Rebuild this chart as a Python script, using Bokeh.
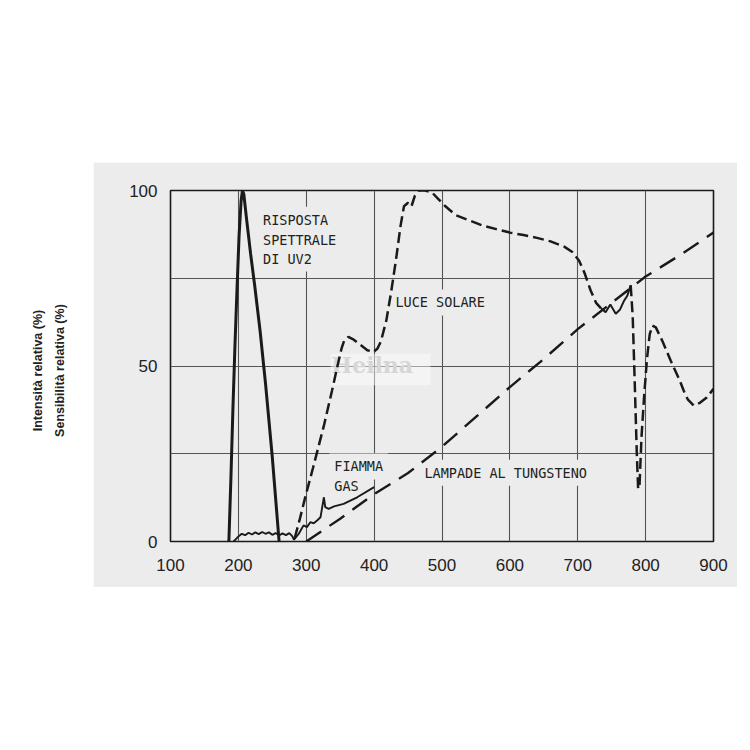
import math
from bokeh.plotting import figure
from bokeh.models import Label, FixedTicker, Spacer, Range1d, BoxAnnotation
from bokeh.layouts import row, column
from bokeh.embed import file_html
from bokeh.resources import INLINE
from bokeh.core.properties import value

# ---------------- data ----------------
x_ticks = [100, 200, 300, 400, 500, 600, 700, 800, 900]
y_ticks = [0, 50, 100]
x_grid = [200, 300, 400, 500, 600, 700, 800]
y_grid = [25, 50, 75]

# spectral response of UV2 (solid, thick)
uv2_wl = [186, 189, 192, 195, 198, 201, 204, 206, 208, 212, 218, 224, 232, 240, 250, 260]
uv2_val = [0, 18, 38, 56, 72, 87, 97, 100, 99, 92, 82, 73, 60, 45, 24, 0]

# gas flame (solid, thin)
flame_wl = [193, 197, 201, 205, 210, 215, 220, 225, 230, 235, 240, 245, 250, 255, 260,
            265, 270, 275, 279, 282, 289, 296, 301, 306, 311, 316, 321, 326, 328, 333,
            341, 355, 375, 400]
flame_val = [0, 0.8, 1.6, 2.2, 1.8, 2.5, 2.0, 2.6, 2.1, 2.7, 2.2, 2.6, 1.9, 2.4, 1.7,
             2.3, 1.8, 2.4, 1.6, 0.5, 2.2, 4.6, 4.1, 5.5, 5.2, 6.0, 6.9, 12.6, 9.8, 9.3,
             10.0, 10.7, 12.6, 15.5]

# sunlight (dashed)
sol_wl = [283, 290, 299, 310, 326, 338, 346, 352, 356, 362, 370, 380, 390, 399, 405,
          410, 418, 425, 432, 439, 444, 450, 455, 460, 466, 475, 485, 495, 505, 520,
          540, 560, 580, 600, 620, 640, 660, 680, 692, 702, 710, 719, 727, 734, 741,
          748, 756, 762, 768, 773, 778, 781, 784, 787, 789, 791, 794, 798, 802, 806,
          810, 815, 825, 837, 850, 856, 862, 871, 880, 890, 900]
sol_val = [1, 6, 13, 21, 33, 43, 50, 55, 57.3, 58.3, 57.5, 56, 54.5, 54, 55,
           57, 63, 71, 80, 90, 95.5, 96.5, 95.5, 98.5, 100, 100, 99.5, 97.5, 95.5, 93,
           91.5, 90, 89, 88, 87.3, 86.5, 85.5, 84, 82.5, 80, 76.5, 71.5, 68, 66.5, 65.3,
           67.5, 64.9, 66, 68.5, 70, 73, 64, 45, 25, 15, 16, 30, 42, 52, 59,
           61.5, 61, 57, 51.5, 46, 43, 40.5, 38.7, 39.5, 41, 43.5]

# tungsten lamps (long dashes)
tung_wl = [300, 350, 400, 450, 500, 550, 600, 650, 700, 750, 800, 850, 900]
tung_val = [0, 6.5, 13.5, 19.5, 27, 35.5, 44, 52, 60.5, 68, 75.5, 81.5, 88]

BG = "#ececec"
INK = "#1a1a1a"
GRID = "#555555"

p = figure(width=644, height=425,
           x_range=Range1d(100, 900), y_range=Range1d(0, 100),
           output_backend="svg", toolbar_location=None,
           min_border_left=77, min_border_right=24,
           min_border_top=28, min_border_bottom=46,
           background_fill_color=BG, border_fill_color=BG)

p.outline_line_color = INK
p.outline_line_width = 1.6

for ax in (p.xaxis, p.yaxis):
    ax.axis_line_color = None
    ax.major_tick_line_color = None
    ax.minor_tick_line_color = None
    ax.major_tick_in = 0
    ax.major_tick_out = 0
    ax.major_label_text_font = "Liberation Sans"
    ax.major_label_text_font_size = "17px"
    ax.major_label_text_color = "#222222"

p.xaxis.ticker = FixedTicker(ticks=x_ticks)
p.yaxis.ticker = FixedTicker(ticks=y_ticks)
p.xaxis.major_label_standoff = 17
p.yaxis.major_label_standoff = 13

p.xgrid.ticker = FixedTicker(ticks=x_grid)
p.ygrid.ticker = FixedTicker(ticks=y_grid)
p.grid.grid_line_color = GRID
p.grid.grid_line_width = 1.1
p.grid.grid_line_alpha = 1.0

# faint watermark of the scanned original
wm = BoxAnnotation(left=336, right=483, bottom=44.5, top=53.5,
                   fill_color="white", fill_alpha=0.45, line_color=None, level="underlay")
p.add_layout(wm)
p.add_layout(Label(x=337, y=46.5, text="Heilna", text_font="DejaVu Serif",
                   text_font_style="bold", text_font_size="22px",
                   text_color="#d6d6d6", level="underlay"))

LBL_FONT = "DejaVu Sans Mono"


def lab(x, y, t, pad=5):
    p.add_layout(Label(x=x, y=y, text=t, text_font=LBL_FONT,
                       text_font_size="13.5px", text_color="#222222",
                       text_baseline="alphabetic", background_fill_color=BG,
                       padding=pad, level="underlay"))


lab(229, 91.7, "RISPOSTA")
lab(229, 86.0, "SPETTRALE")
lab(229, 80.6, "DI UV2")
lab(424, 68.1, "LUCE SOLARE")
lab(334, 21.4, "FIAMMA")
lab(334, 15.7, "GAS")
lab(466.7, 19.6, "LAMPADE AL TUNGSTENO")

# curves
p.line(tung_wl, tung_val, line_color=INK, line_width=2.4, line_dash="18 10")
p.line(flame_wl, flame_val, line_color=INK, line_width=1.9)
p.line(uv2_wl, uv2_val, line_color=INK, line_width=3.0)
i0 = sol_wl.index(734)
i1 = sol_wl.index(778)
p.line(sol_wl[:i0 + 1], sol_val[:i0 + 1], line_color=INK, line_width=2.5, line_dash="11 5")
p.line(sol_wl[i0:i1 + 1], sol_val[i0:i1 + 1], line_color=INK, line_width=2.0)
p.line(sol_wl[i1:], sol_val[i1:], line_color=INK, line_width=2.5, line_dash="11 5")

# left panel with the y-axis titles (white area)
left = figure(width=93, height=425, x_range=Range1d(0, 93), y_range=Range1d(0, 425),
              output_backend="svg", toolbar_location=None, min_border=0,
              background_fill_color="white", border_fill_color="white")
left.outline_line_color = None
left.axis.visible = False
left.grid.visible = False
left.text(x=[37, 59], y=[207, 207],
          text=["Intensità relativa (%)", "Sensibilità relativa (%)"],
          angle=math.pi / 2, text_align="center", text_baseline="middle",
          text_font=value("Liberation Sans"), text_font_style="bold",
          text_font_size="12.5px", text_color="#222222")

layout = column(Spacer(width=737, height=162), row(left, p))

open("out.html", "w").write(file_html(layout, INLINE))
